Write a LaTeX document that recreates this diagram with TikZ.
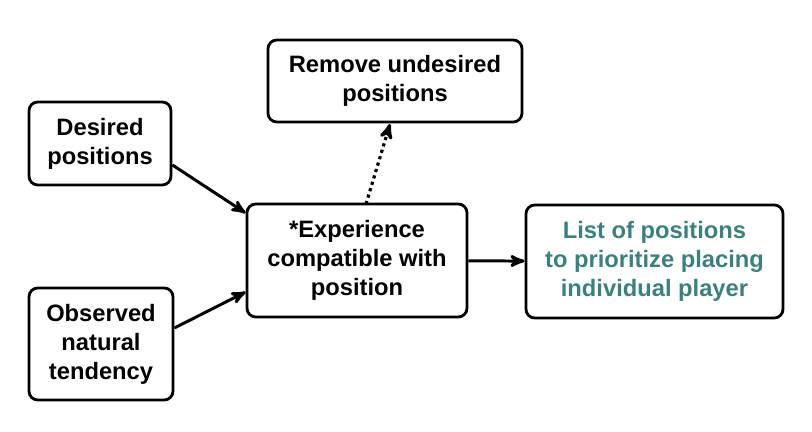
\documentclass[tikz,border=0pt]{standalone}
\usepackage{fontspec}
\setmainfont{Liberation Sans}
\usetikzlibrary{arrows}
\definecolor{tealtext}{HTML}{3A8080}

\begin{document}
\begin{tikzpicture}[->,>=stealth',thick,line width=1.7pt,
  box/.style={rectangle,draw,rounded corners=5pt,line width=1.6pt,align=center,
    font=\fontsize{13.5}{16.5}\selectfont\bfseries}]

  \useasboundingbox (0,0) rectangle (16.24,-8.64);

  \node[box,minimum width=2.84cm,minimum height=1.66cm] (desired) at (2.0,-2.87) {Desired\\positions};
  \node[box,minimum width=2.88cm,minimum height=2.24cm] (observed) at (2.02,-6.88) {Observed\\natural\\tendency};
  \node[box,minimum width=4.4cm,minimum height=2.26cm] (exp) at (7.14,-5.21) {*Experience\\compatible with\\position};
  \node[box,minimum width=5.08cm,minimum height=1.64cm] (remove) at (7.9,-1.62) {Remove undesired\\positions};
  \node[box,text=tealtext,minimum width=5.14cm,minimum height=2.26cm] (list) at (13.09,-5.23) {List of positions\\to prioritize placing\\individual player};

  \draw (desired.east |- 0,-3.3) -- (exp.west |- 0,-4.26);
  \draw (observed.east |- 0,-6.56) -- (exp.west |- 0,-5.84);
  \draw (exp) -- (list);
  \draw[dotted,line width=1.8pt] (7.32,-4.08) -- (7.8,-2.48);
\end{tikzpicture}
\end{document}
